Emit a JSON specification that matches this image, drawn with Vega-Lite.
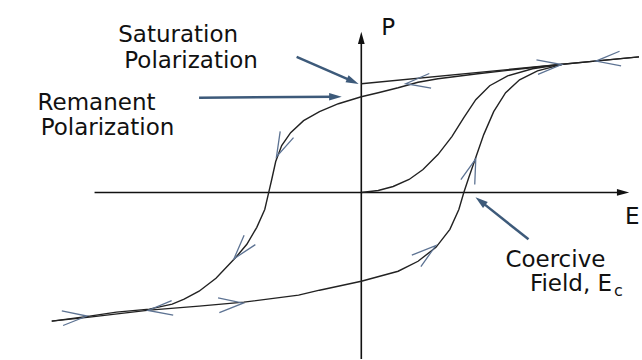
{
  "$schema": "https://vega.github.io/schema/vega-lite/v6.json",
  "autosize": {"type": "fit", "contains": "padding"},
  "width": 642,
  "height": 360,
  "padding": 0,
  "background": "white",
  "config": {"view": {"stroke": null}},
  "datasets": {
    "curves": [
      {"series": "upper", "ord": 1, "E": 279, "P": 136},
      {"series": "upper", "ord": 2, "E": 237, "P": 132},
      {"series": "upper", "ord": 3, "E": 202, "P": 128.5},
      {"series": "upper", "ord": 4, "E": 157, "P": 123.5},
      {"series": "upper", "ord": 5, "E": 117, "P": 119},
      {"series": "upper", "ord": 6, "E": 77, "P": 114},
      {"series": "upper", "ord": 7, "E": 57, "P": 110.5},
      {"series": "upper", "ord": 8, "E": 37, "P": 105},
      {"series": "upper", "ord": 9, "E": 17, "P": 100},
      {"series": "upper", "ord": 10, "E": 0, "P": 96},
      {"series": "upper", "ord": 11, "E": -23, "P": 89},
      {"series": "upper", "ord": 12, "E": -42, "P": 81},
      {"series": "upper", "ord": 13, "E": -58, "P": 72},
      {"series": "upper", "ord": 14, "E": -71, "P": 60},
      {"series": "upper", "ord": 15, "E": -80, "P": 47},
      {"series": "upper", "ord": 16, "E": -86, "P": 31},
      {"series": "upper", "ord": 17, "E": -90, "P": 13},
      {"series": "upper", "ord": 18, "E": -93, "P": 0},
      {"series": "upper", "ord": 19, "E": -97, "P": -17},
      {"series": "upper", "ord": 20, "E": -105, "P": -35},
      {"series": "upper", "ord": 21, "E": -115, "P": -52},
      {"series": "upper", "ord": 22, "E": -126, "P": -65},
      {"series": "upper", "ord": 23, "E": -146, "P": -86},
      {"series": "upper", "ord": 24, "E": -163, "P": -99},
      {"series": "upper", "ord": 25, "E": -178, "P": -107},
      {"series": "upper", "ord": 26, "E": -190, "P": -112},
      {"series": "upper", "ord": 27, "E": -213, "P": -117},
      {"series": "upper", "ord": 28, "E": -246, "P": -120},
      {"series": "upper", "ord": 29, "E": -273, "P": -124},
      {"series": "upper", "ord": 30, "E": -311, "P": -129},
      {"series": "lower", "ord": 1, "E": -311, "P": -129},
      {"series": "lower", "ord": 2, "E": -273, "P": -125},
      {"series": "lower", "ord": 3, "E": -213, "P": -118},
      {"series": "lower", "ord": 4, "E": -163, "P": -114},
      {"series": "lower", "ord": 5, "E": -118, "P": -110},
      {"series": "lower", "ord": 6, "E": -63, "P": -103},
      {"series": "lower", "ord": 7, "E": -42, "P": -98},
      {"series": "lower", "ord": 8, "E": 0, "P": -89},
      {"series": "lower", "ord": 9, "E": 37, "P": -79},
      {"series": "lower", "ord": 10, "E": 57, "P": -69},
      {"series": "lower", "ord": 11, "E": 75, "P": -55},
      {"series": "lower", "ord": 12, "E": 89, "P": -37},
      {"series": "lower", "ord": 13, "E": 98, "P": -17},
      {"series": "lower", "ord": 14, "E": 103, "P": 0},
      {"series": "lower", "ord": 15, "E": 108, "P": 15},
      {"series": "lower", "ord": 16, "E": 115, "P": 35},
      {"series": "lower", "ord": 17, "E": 123, "P": 58},
      {"series": "lower", "ord": 18, "E": 133, "P": 81},
      {"series": "lower", "ord": 19, "E": 145, "P": 100},
      {"series": "lower", "ord": 20, "E": 159, "P": 113},
      {"series": "lower", "ord": 21, "E": 177, "P": 122},
      {"series": "lower", "ord": 22, "E": 202, "P": 128.5},
      {"series": "initial", "ord": 1, "E": 0, "P": 0},
      {"series": "initial", "ord": 2, "E": 17, "P": 2},
      {"series": "initial", "ord": 3, "E": 32, "P": 6},
      {"series": "initial", "ord": 4, "E": 48, "P": 13},
      {"series": "initial", "ord": 5, "E": 62, "P": 23},
      {"series": "initial", "ord": 6, "E": 77, "P": 38},
      {"series": "initial", "ord": 7, "E": 91, "P": 56},
      {"series": "initial", "ord": 8, "E": 103, "P": 75},
      {"series": "initial", "ord": 9, "E": 115, "P": 93},
      {"series": "initial", "ord": 10, "E": 129, "P": 107},
      {"series": "initial", "ord": 11, "E": 147, "P": 117},
      {"series": "initial", "ord": 12, "E": 172, "P": 124},
      {"series": "initial", "ord": 13, "E": 202, "P": 128.5},
      {"series": "saturation", "ord": 1, "E": 0, "P": 109},
      {"series": "saturation", "ord": 2, "E": 279, "P": 136}
    ],
    "chevrons": [
      {"E": 57, "P": 110.5, "dir": 173},
      {"E": 189, "P": 127, "dir": 354},
      {"E": 248, "P": 133, "dir": 174},
      {"E": -80, "P": 47, "dir": 115},
      {"E": -120, "P": -57, "dir": 130},
      {"E": -202, "P": -117, "dir": 174},
      {"E": -131, "P": -112, "dir": 355},
      {"E": -288, "P": -125, "dir": 355},
      {"E": 65, "P": -61, "dir": 322},
      {"E": 111, "P": 22, "dir": 289}
    ],
    "axes": [
      {"E": -268, "P": 0, "E2": 263, "P2": 0},
      {"E": 0, "P": -167, "E2": 0, "P2": 155}
    ],
    "axisHeads": [
      {"E": 263, "P": 0, "dir": 0},
      {"E": 0, "P": 155, "dir": 270}
    ],
    "callouts": [
      {"E": -65, "P": 136, "E2": -8.5, "P2": 111.4},
      {"E": -163, "P": 95, "E2": -26, "P2": 96},
      {"E": 168, "P": -47, "E2": 119.7, "P2": -8.7}
    ],
    "calloutHeads": [
      {"E": -8.5, "P": 111.4, "dir": 23.5},
      {"E": -26, "P": 96, "dir": 0},
      {"E": 119.7, "P": -8.7, "dir": 218.4}
    ],
    "labelsCenter": [
      {"text": "Saturation", "E": -184, "P": 151},
      {"text": "Polarization", "E": -171, "P": 125},
      {"text": "Remanent", "E": -266, "P": 83},
      {"text": "Polarization", "E": -255, "P": 58},
      {"text": "Coercive", "E": 195, "P": -75},
      {"text": "P", "E": 27, "P": 158}
    ],
    "labelsRight": [
      {"text": "Field, E", "E": 252, "P": -99}
    ],
    "labelsLeft": [
      {"text": "E", "E": 265, "P": -32}
    ],
    "labelsSub": [
      {"text": "c", "E": 254, "P": -104}
    ]
  },
  "encoding": {
    "x": {"field": "E", "type": "quantitative", "scale": {"domain": [-363, 279], "nice": false, "zero": false}, "axis": null},
    "y": {"field": "P", "type": "quantitative", "scale": {"domain": [-167, 193], "nice": false, "zero": false}, "axis": null}
  },
  "layer": [
    {
      "data": {"name": "axes"},
      "mark": {"type": "rule", "color": "#111111", "strokeWidth": 1.6},
      "encoding": {"x2": {"field": "E2"}, "y2": {"field": "P2"}}
    },
    {
      "data": {"name": "axisHeads"},
      "mark": {"type": "point", "shape": "M 1 0 L -1 -0.55 L -1 0.55 Z", "filled": true, "color": "#111111", "size": 150, "opacity": 1},
      "encoding": {"angle": {"field": "dir", "type": "quantitative", "scale": null}}
    },
    {
      "data": {"name": "curves"},
      "mark": {"type": "line", "color": "#222222", "strokeWidth": 1.4},
      "encoding": {"detail": {"field": "series"}, "order": {"field": "ord", "type": "quantitative"}}
    },
    {
      "data": {"name": "chevrons"},
      "mark": {"type": "point", "shape": "M -1 -0.6 L 1 0 L -1 0.6", "filled": false, "color": "#5d7393", "strokeWidth": 1.3, "size": 600, "opacity": 1},
      "encoding": {"angle": {"field": "dir", "type": "quantitative", "scale": null}}
    },
    {
      "data": {"name": "callouts"},
      "mark": {"type": "rule", "color": "#3d5a7a", "strokeWidth": 2.5},
      "encoding": {"x2": {"field": "E2"}, "y2": {"field": "P2"}}
    },
    {
      "data": {"name": "calloutHeads"},
      "mark": {"type": "point", "shape": "M 1 0 L -1 -0.6 L -1 0.6 Z", "filled": true, "color": "#3d5a7a", "size": 160, "opacity": 1},
      "encoding": {"angle": {"field": "dir", "type": "quantitative", "scale": null}}
    },
    {
      "data": {"name": "labelsCenter"},
      "mark": {"type": "text", "font": "DejaVu Sans", "fontSize": 23, "color": "#111111", "align": "center", "baseline": "alphabetic"},
      "encoding": {"text": {"field": "text"}}
    },
    {
      "data": {"name": "labelsRight"},
      "mark": {"type": "text", "font": "DejaVu Sans", "fontSize": 23, "color": "#111111", "align": "right", "baseline": "alphabetic"},
      "encoding": {"text": {"field": "text"}}
    },
    {
      "data": {"name": "labelsLeft"},
      "mark": {"type": "text", "font": "DejaVu Sans", "fontSize": 23, "color": "#111111", "align": "left", "baseline": "alphabetic"},
      "encoding": {"text": {"field": "text"}}
    },
    {
      "data": {"name": "labelsSub"},
      "mark": {"type": "text", "font": "DejaVu Sans", "fontSize": 16, "color": "#111111", "align": "left", "baseline": "alphabetic"},
      "encoding": {"text": {"field": "text"}}
    }
  ]
}
